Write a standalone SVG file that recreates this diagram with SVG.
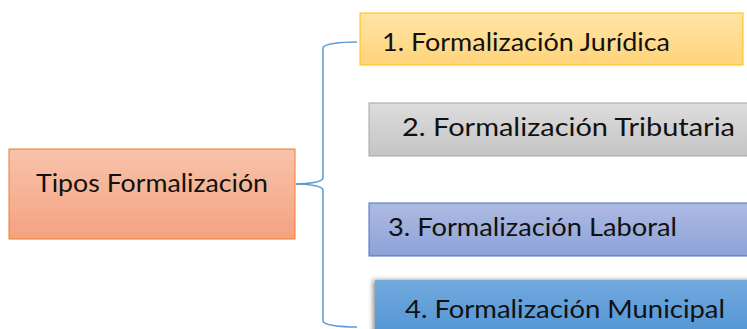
<svg xmlns="http://www.w3.org/2000/svg" width="747" height="329" viewBox="0 0 747 329">
<defs>
<linearGradient id="gOrange" x1="0" y1="0" x2="0" y2="1"><stop offset="0" stop-color="#f8c3ab"/><stop offset="1" stop-color="#f4a27f"/></linearGradient>
<linearGradient id="gYellow" x1="0" y1="0" x2="0" y2="1"><stop offset="0" stop-color="#ffe4a6"/><stop offset="1" stop-color="#ffd47a"/></linearGradient>
<linearGradient id="gGray" x1="0" y1="0" x2="0" y2="1"><stop offset="0" stop-color="#dddddd"/><stop offset="1" stop-color="#c4c4c4"/></linearGradient>
<linearGradient id="gBlue" x1="0" y1="0" x2="0" y2="1"><stop offset="0" stop-color="#aebbe2"/><stop offset="1" stop-color="#8da2d8"/></linearGradient>
<linearGradient id="gSky" x1="0" y1="0" x2="0" y2="1"><stop offset="0" stop-color="#72a9de"/><stop offset="1" stop-color="#4f93d3"/></linearGradient>
<filter id="sh" x="-10%" y="-30%" width="120%" height="160%"><feGaussianBlur in="SourceAlpha" stdDeviation="2.5"/><feOffset dx="-2" dy="0"/><feComponentTransfer><feFuncA type="linear" slope="0.45"/></feComponentTransfer><feMerge><feMergeNode/><feMergeNode in="SourceGraphic"/></feMerge></filter>
</defs>
<style>
.t{font-family:Lato,"Open Sans","Liberation Sans",sans-serif;font-size:25px;fill:#111111}
.conn{fill:none;stroke:#5b9bd5;stroke-width:1.5}
</style>
<rect width="747" height="329" fill="#ffffff"/>
<g id="connectors">
<path class="conn" d="M296,184 C308,184 323,182 323,178 L323,48 C323,44 340,42 357,42"/>
<path class="conn" d="M296,184 C308,184 323,186 323,190 L323,321 C323,325 340,327 357,327"/>
</g>
<g id="root">
<rect x="9" y="149" width="286" height="90" fill="url(#gOrange)" stroke="#ed7d31" stroke-width="1"/>
<text class="t" x="36" y="192" textLength="232" lengthAdjust="spacingAndGlyphs">Tipos Formalización</text>
</g>
<g id="n1">
<rect x="360" y="13" width="383" height="52" fill="url(#gYellow)" stroke="#ffc000" stroke-width="1"/>
<text class="t" x="382" y="51" textLength="288" lengthAdjust="spacingAndGlyphs">1. Formalización Jurídica</text>
</g>
<g id="n2">
<rect x="369" y="103" width="390" height="53" fill="url(#gGray)" stroke="#a5a5a5" stroke-width="1"/>
<text class="t" x="402" y="136" textLength="333" lengthAdjust="spacingAndGlyphs">2. Formalización Tributaria</text>
</g>
<g id="n3">
<rect x="369" y="203" width="390" height="53" fill="url(#gBlue)" stroke="#4472c4" stroke-width="1"/>
<text class="t" x="388" y="236" textLength="289" lengthAdjust="spacingAndGlyphs">3. Formalización Laboral</text>
</g>
<g id="n4">
<rect x="375" y="280" width="390" height="60" fill="url(#gSky)" filter="url(#sh)"/>
<text class="t" x="405" y="318" textLength="320" lengthAdjust="spacingAndGlyphs">4. Formalización Municipal</text>
</g>
</svg>
